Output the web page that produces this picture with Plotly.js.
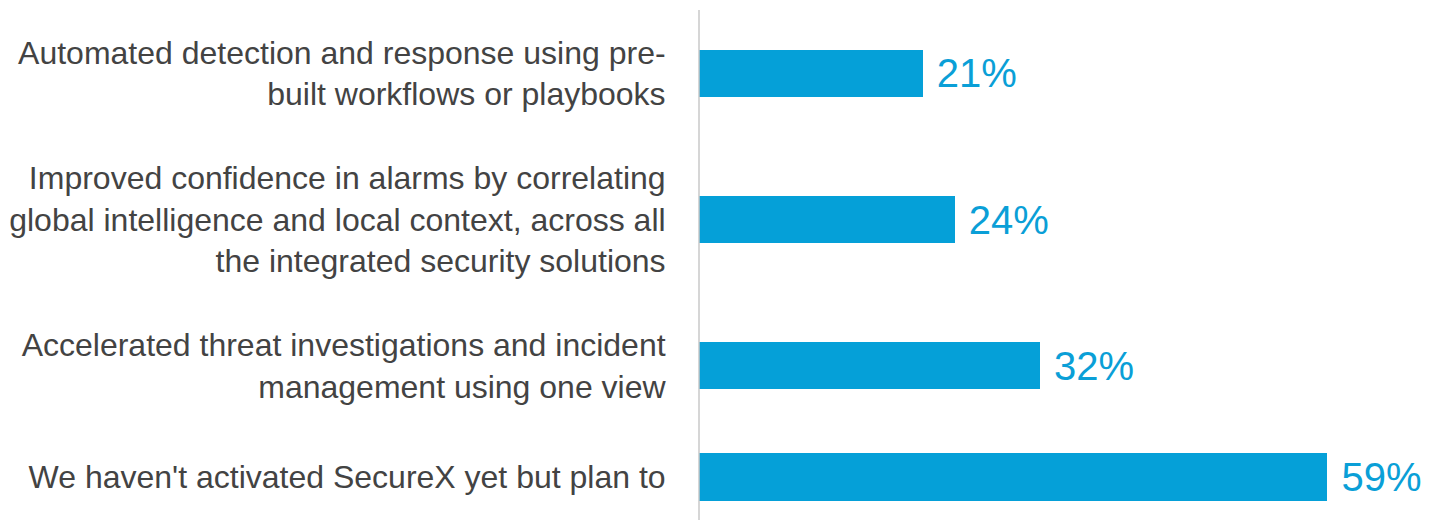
<!DOCTYPE html>
<html>
<head>
<meta charset="utf-8">
<script src="https://cdn.plot.ly/plotly-3.0.1.min.js"></script>
<style>html,body{margin:0;padding:0;background:#fff;}#chart{width:1435px;height:520px;}</style>
</head>
<body>
<div id="chart"></div>
<script>
const categories = [
  "Automated detection and response using pre-<br>built workflows or playbooks",
  "Improved confidence in alarms by correlating<br>global intelligence and local context, across all<br>the integrated security solutions",
  "Accelerated threat investigations and incident<br>management using one view",
  "We haven't activated SecureX yet but plan to"
];
const values = [21, 24, 32, 59];

const barColor = '#05a0d8';
const textColor = '#0a9fd7';
const labelColor = '#434343';
const fontFamily = '"Liberation Sans", Arial, Helvetica, sans-serif';

const common = {
  type: 'bar',
  orientation: 'h',
  marker: {color: barColor},
  texttemplate: '\u00a0%{x}%',
  textposition: 'outside',
  textfont: {family: fontFamily, size: 40, color: textColor},
  constraintext: 'none',
  cliponaxis: false,
  hoverinfo: 'none',
  showlegend: false
};

const trace1 = Object.assign({}, common, {
  x: values.slice(0, 3),
  y: categories.slice(0, 3),
  width: 0.323,
  xaxis: 'x',
  yaxis: 'y'
});
const trace2 = Object.assign({}, common, {
  x: values.slice(3),
  y: categories.slice(3),
  width: 0.625,
  xaxis: 'x',
  yaxis: 'y2'
});

const yCommon = {
  type: 'category',
  showgrid: false,
  zeroline: false,
  showline: false,
  ticks: 'outside',
  ticklen: 26,
  tickcolor: 'rgba(0,0,0,0)',
  tickfont: {family: fontFamily, size: 32, color: labelColor},
  fixedrange: true
};

const layout = {
  width: 1435,
  height: 520,
  margin: {l: 699, r: 0, t: 0, b: 0, pad: 0},
  paper_bgcolor: '#ffffff',
  plot_bgcolor: '#ffffff',
  bargap: 0,
  xaxis: {
    range: [0, 69.1],
    visible: false,
    fixedrange: true
  },
  yaxis: Object.assign({}, yCommon, {
    domain: [1 - 439 / 520, 1],
    range: [2.5, -0.5],
    categoryorder: 'array',
    categoryarray: categories.slice(0, 3),
    anchor: 'x'
  }),
  yaxis2: Object.assign({}, yCommon, {
    domain: [1 - 515 / 520, 1 - 439 / 520],
    range: [0.5, -0.5],
    categoryorder: 'array',
    categoryarray: categories.slice(3),
    anchor: 'x'
  }),
  shapes: [{
    type: 'line',
    xref: 'paper', yref: 'paper',
    x0: 0, x1: 0,
    y0: 0, y1: 1 - 10 / 520,
    line: {color: '#c8c8c8', width: 1.5}
  }]
};

Plotly.newPlot('chart', [trace1, trace2], layout, {displayModeBar: false, staticPlot: true});
</script>
</body>
</html>
